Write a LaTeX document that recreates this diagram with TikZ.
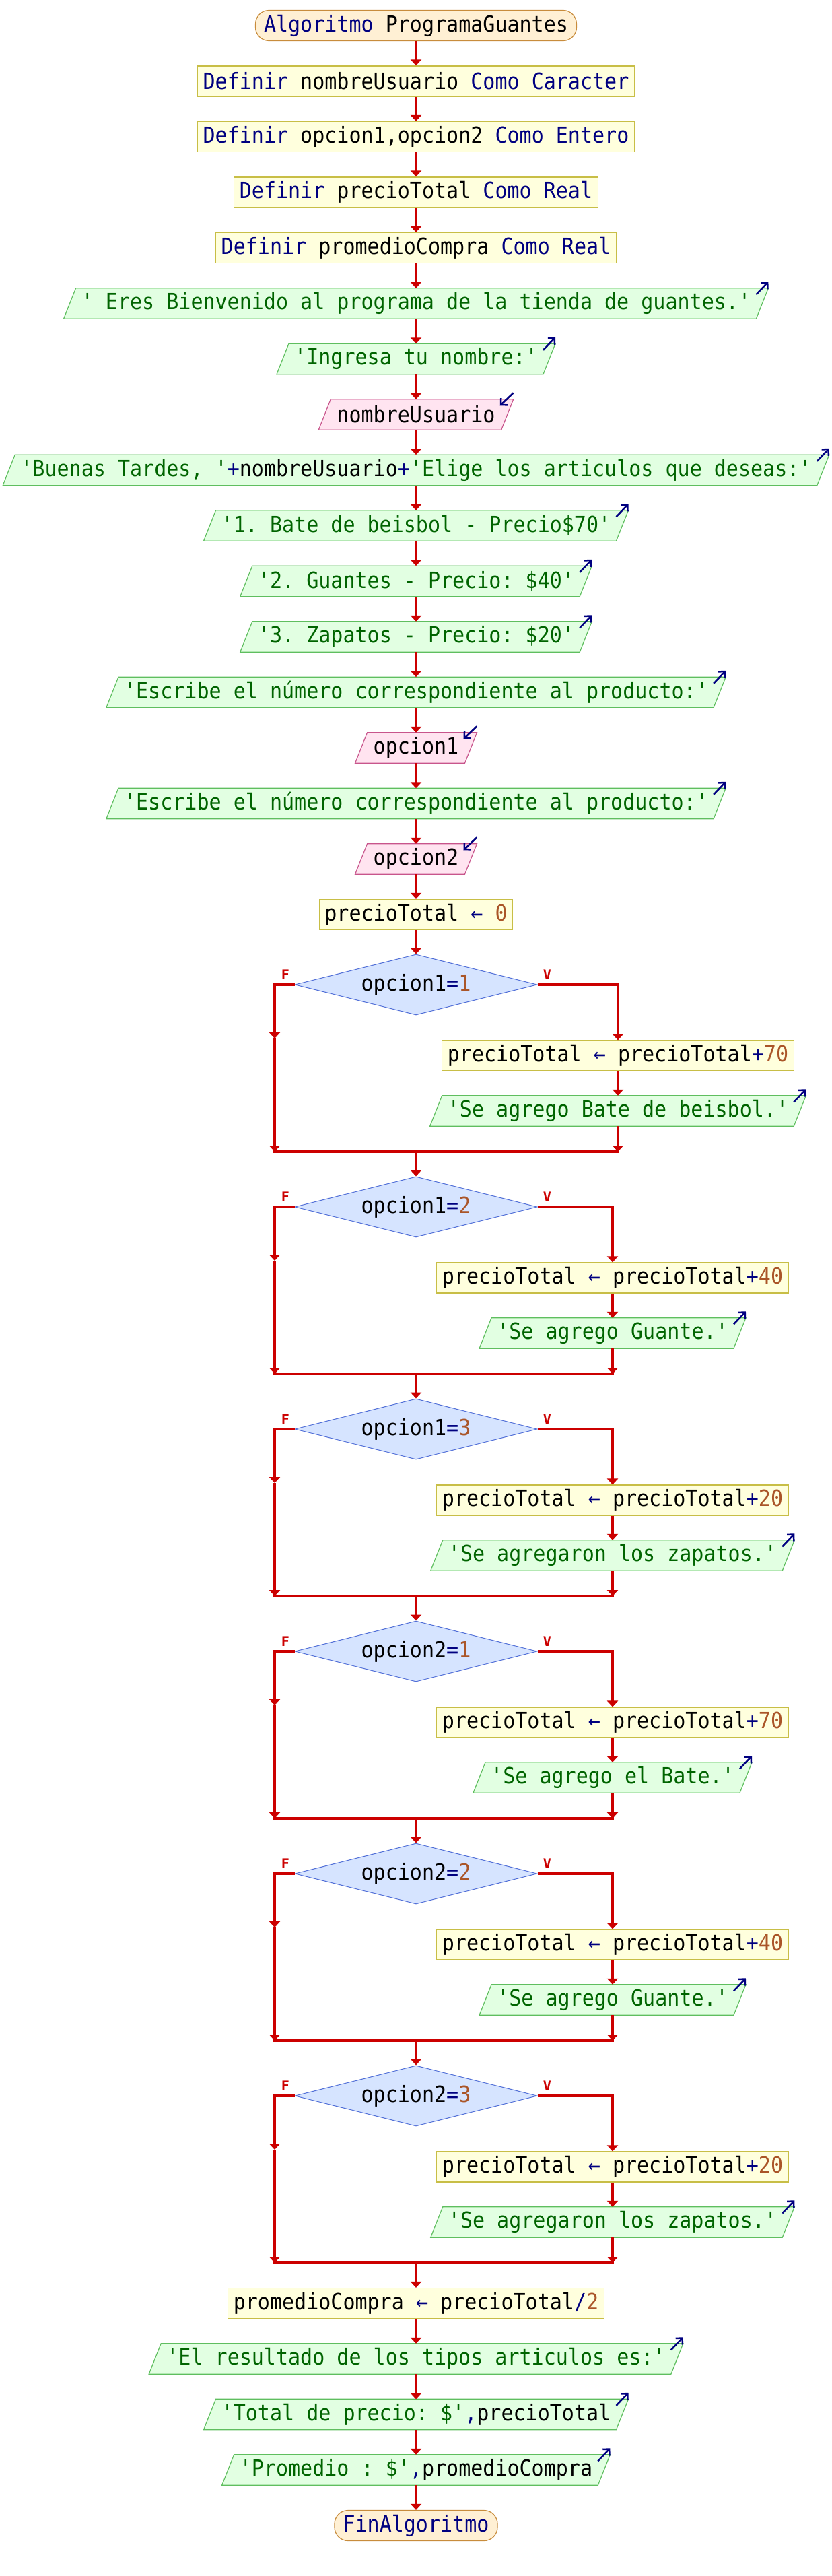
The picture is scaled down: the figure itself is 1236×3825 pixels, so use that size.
\documentclass[tikz,border=0pt]{standalone}
\usepackage{fontspec}
\setmonofont{DejaVu Sans Mono}
\newfontfamily\flowfont{DejaVu Sans Mono}[FakeStretch=0.91]
\usetikzlibrary{shapes.geometric,arrows.meta,backgrounds}
\definecolor{flowc}{RGB}{204,0,0}
\definecolor{kwc}{RGB}{0,0,128}
\definecolor{strc}{RGB}{0,100,0}
\definecolor{numc}{RGB}{170,85,40}
\definecolor{procfill}{RGB}{255,255,221}
\definecolor{procdraw}{RGB}{200,190,70}
\definecolor{outfill}{RGB}{226,255,226}
\definecolor{outdraw}{RGB}{95,190,95}
\definecolor{infill}{RGB}{255,228,240}
\definecolor{indraw}{RGB}{200,85,140}
\definecolor{decfill}{RGB}{214,228,255}
\definecolor{decdraw}{RGB}{80,110,215}
\definecolor{termfill}{RGB}{255,240,212}
\definecolor{termdraw}{RGB}{200,140,60}
\newcommand{\kwd}[1]{\textcolor{kwc}{#1}}
\newcommand{\strg}[1]{\textcolor{strc}{#1}}
\newcommand{\numb}[1]{\textcolor{numc}{#1}}
\tikzset{
 base/.style={font=\fontsize{33}{38}\flowfont\frenchspacing, inner ysep=0pt, minimum height=45pt, anchor=center},
 proc/.style={base, rectangle, draw=procdraw, fill=procfill, line width=1.2pt, inner xsep=8pt},
 term/.style={base, rectangle, rounded corners=20pt, draw=termdraw, fill=termfill, line width=1.2pt, inner xsep=12.5pt},
 outnode/.style={base, rectangle, inner xsep=17pt},
 innode/.style={base, rectangle, inner xsep=18pt},
 dec/.style={base, diamond, shape aspect=4, inner sep=0pt, minimum width=360pt, minimum height=90pt, draw=decdraw, fill=decfill, line width=1pt},
 outshape/.style={draw=outdraw, fill=outfill, line width=1.2pt},
 inshape/.style={draw=indraw, fill=infill, line width=1.2pt},
 flow/.style={draw=flowc, line width=3.2pt},
 arr/.style={flow, -{Triangle[length=9pt,width=16pt]}},
 iomark/.style={draw=kwc, line width=2.5pt, -{Straight Barb[length=7pt,width=14pt]}},
 lab/.style={text=flowc, font=\fontsize{20}{24}\selectfont\ttfamily\bfseries, inner sep=0pt},
}
\newcommand{\paraout}[1]{\path[outshape] ([xshift=9pt]#1.north west) -- ([xshift=9pt]#1.north east) -- ([xshift=-9pt]#1.south east) -- ([xshift=-9pt]#1.south west) -- cycle;}
\newcommand{\parain}[1]{\path[inshape] ([xshift=9pt]#1.north west) -- ([xshift=9pt]#1.north east) -- ([xshift=-9pt]#1.south east) -- ([xshift=-9pt]#1.south west) -- cycle;}
\newcommand{\outmark}[1]{\draw[iomark] ([xshift=-9pt,yshift=-9.5pt]#1.north east) -- ([xshift=9pt,yshift=9.5pt]#1.north east);}
\newcommand{\inmark}[1]{\draw[iomark] ([xshift=9pt,yshift=9.5pt]#1.north east) -- ([xshift=-11pt,yshift=-9.5pt]#1.north east);}
\newcommand{\decblock}[7]{%
 \node[dec] (d#1) at (618,#2) {#4\kwd{=}\numb{#5}};
 \node[proc] (p#1) at (#3,#2+105.5) {precioTotal \kwd{←} precioTotal\kwd{+}\numb{#6}};
 \node[outnode] (o#1) at (#3,#2+187.5) {\strg{#7}};
 \coordinate (L#1) at (408,#2);
 \coordinate (M#1) at (408,#2+80);
 \coordinate (JL#1) at (408,#2+248);
 \coordinate (R#1) at (#3,#2);
 \coordinate (JR#1) at (#3,#2+248);
 \coordinate (JC#1) at (618,#2+248);
 \node[lab] (f#1) at (424,#2-14.5) {F};
 \node[lab] (v#1) at (813,#2-14.5) {V};
}
\newcommand{\decedges}[1]{%
 \draw[arr] (d#1.west) -- (L#1) -- (M#1);
 \draw[arr] (M#1) -- (JL#1);
 \draw[arr] (d#1.east) -- (R#1) -- (p#1.north);
 \draw[arr] (p#1.south) -- (o#1.north);
 \draw[arr] (o#1.south) -- (JR#1);
 \draw[flow, line cap=rect] (JL#1) -- (JR#1);
 \outmark{o#1}
}
\begin{document}
\begin{tikzpicture}[x=1pt,y=-1pt]
\useasboundingbox (0,0) rectangle (1236,3825);
% top sequence
\node[term] (n0) at (618,38) {\kwd{Algoritmo} ProgramaGuantes};
\node[proc] (n1) at (618,120.5) {\kwd{Definir} nombreUsuario \kwd{Como Caracter}};
\node[proc] (n2) at (618,203) {\kwd{Definir} opcion1,opcion2 \kwd{Como Entero}};
\node[proc] (n3) at (618,285.5) {\kwd{Definir} precioTotal \kwd{Como Real}};
\node[proc] (n4) at (618,368) {\kwd{Definir} promedioCompra \kwd{Como Real}};
\node[outnode] (n5) at (618,450.5) {\strg{' Eres Bienvenido al programa de la tienda de guantes.'}};
\node[outnode] (n6) at (618,533) {\strg{'Ingresa tu nombre:'}};
\node[innode] (n7) at (618,615.5) {nombreUsuario};
\node[outnode] (n8) at (618,698) {\strg{'Buenas Tardes, '}\kwd{+}nombreUsuario\kwd{+}\strg{'Elige los articulos que deseas:'}};
\node[outnode] (n9) at (618,780.5) {\strg{'1. Bate de beisbol - Precio\$70'}};
\node[outnode] (n10) at (618,863) {\strg{'2. Guantes - Precio: \$40'}};
\node[outnode] (n11) at (618,945.5) {\strg{'3. Zapatos - Precio: \$20'}};
\node[outnode] (n12) at (618,1028) {\strg{'Escribe el número correspondiente al producto:'}};
\node[innode] (n13) at (618,1110.5) {opcion1};
\node[outnode] (n14) at (618,1193) {\strg{'Escribe el número correspondiente al producto:'}};
\node[innode] (n15) at (618,1275.5) {opcion2};
\node[proc] (n16) at (618,1358) {precioTotal \kwd{←} \numb{0}};
% decisions
\decblock{1}{1462}{918}{opcion1}{1}{70}{'Se agrego Bate de beisbol.'}
\decblock{2}{1792}{910}{opcion1}{2}{40}{'Se agrego Guante.'}
\decblock{3}{2122}{910}{opcion1}{3}{20}{'Se agregaron los zapatos.'}
\decblock{4}{2452}{910}{opcion2}{1}{70}{'Se agrego el Bate.'}
\decblock{5}{2782}{910}{opcion2}{2}{40}{'Se agrego Guante.'}
\decblock{6}{3112}{910}{opcion2}{3}{20}{'Se agregaron los zapatos.'}
% bottom sequence
\node[proc] (b1) at (618,3420) {promedioCompra \kwd{←} precioTotal\kwd{/}\numb{2}};
\node[outnode] (b2) at (618,3502.5) {\strg{'El resultado de los tipos articulos es:'}};
\node[outnode] (b3) at (618,3585) {\strg{'Total de precio: \$'}\kwd{,}precioTotal};
\node[outnode] (b4) at (618,3667.5) {\strg{'Promedio : \$'}\kwd{,}promedioCompra};
\node[term] (b5) at (618,3750) {\kwd{FinAlgoritmo}};
% background shapes
\begin{scope}[on background layer]
\fill[white] (0,0) rectangle (1236,3825);
\paraout{n5}\paraout{n6}\parain{n7}\paraout{n8}\paraout{n9}\paraout{n10}\paraout{n11}\paraout{n12}
\parain{n13}\paraout{n14}\parain{n15}
\paraout{o1}\paraout{o2}\paraout{o3}\paraout{o4}\paraout{o5}\paraout{o6}
\paraout{b2}\paraout{b3}\paraout{b4}
\end{scope}
% connectors
\draw[arr] (n0.south) -- (n1.north);
\draw[arr] (n1.south) -- (n2.north);
\draw[arr] (n2.south) -- (n3.north);
\draw[arr] (n3.south) -- (n4.north);
\draw[arr] (n4.south) -- (n5.north);
\draw[arr] (n5.south) -- (n6.north);
\draw[arr] (n6.south) -- (n7.north);
\draw[arr] (n7.south) -- (n8.north);
\draw[arr] (n8.south) -- (n9.north);
\draw[arr] (n9.south) -- (n10.north);
\draw[arr] (n10.south) -- (n11.north);
\draw[arr] (n11.south) -- (n12.north);
\draw[arr] (n12.south) -- (n13.north);
\draw[arr] (n13.south) -- (n14.north);
\draw[arr] (n14.south) -- (n15.north);
\draw[arr] (n15.south) -- (n16.north);
\draw[arr] (n16.south) -- (d1.north);
\decedges{1}\decedges{2}\decedges{3}\decedges{4}\decedges{5}\decedges{6}
\draw[arr] (JC1) -- (d2.north);
\draw[arr] (JC2) -- (d3.north);
\draw[arr] (JC3) -- (d4.north);
\draw[arr] (JC4) -- (d5.north);
\draw[arr] (JC5) -- (d6.north);
\draw[arr] (JC6) -- (b1.north);
\draw[arr] (b1.south) -- (b2.north);
\draw[arr] (b2.south) -- (b3.north);
\draw[arr] (b3.south) -- (b4.north);
\draw[arr] (b4.south) -- (b5.north);
% io markers
\outmark{n5}\outmark{n6}\inmark{n7}\outmark{n8}\outmark{n9}\outmark{n10}\outmark{n11}\outmark{n12}
\inmark{n13}\outmark{n14}\inmark{n15}
\outmark{b2}\outmark{b3}\outmark{b4}
\end{tikzpicture}
\end{document}
